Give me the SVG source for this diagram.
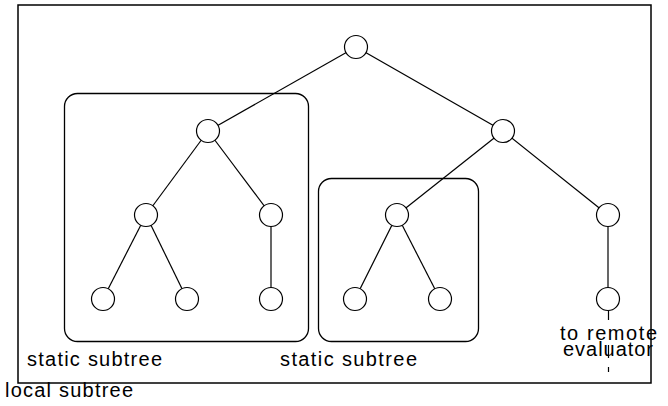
<svg xmlns="http://www.w3.org/2000/svg" width="668" height="406" viewBox="0 0 668 406">
<style>
.frame{fill:none;stroke:#000;stroke-width:1.5}
.box{fill:none;stroke:#000;stroke-width:1.3}
.edge{stroke:#000;stroke-width:1.2;fill:none}
.node{fill:#fff;stroke:#000;stroke-width:1.2}
.lbl{font-family:"Liberation Sans","DejaVu Sans",sans-serif;font-size:20px;fill:#000}
</style>
<rect width="668" height="406" fill="#fff"/>
<g id="frame"><rect class="frame" x="18" y="5" width="633" height="378"/></g>
<g id="box1"><rect class="box" x="64.5" y="93.5" width="244" height="248" rx="13"/></g>
<g id="box2"><rect class="box" x="318.5" y="178.5" width="160" height="163" rx="13"/></g>
<g id="connectors">
<line class="edge" x1="356" y1="47" x2="208" y2="131"/>
<line class="edge" x1="356" y1="47" x2="503" y2="131"/>
<line class="edge" x1="208" y1="131" x2="146" y2="215"/>
<line class="edge" x1="208" y1="131" x2="271" y2="215"/>
<line class="edge" x1="503" y1="131" x2="397" y2="215"/>
<line class="edge" x1="503" y1="131" x2="608" y2="215"/>
<line class="edge" x1="146" y1="215" x2="103" y2="299"/>
<line class="edge" x1="146" y1="215" x2="187" y2="299"/>
<line class="edge" x1="271" y1="215" x2="271" y2="299"/>
<line class="edge" x1="397" y1="215" x2="355" y2="299"/>
<line class="edge" x1="397" y1="215" x2="440" y2="299"/>
<line class="edge" x1="608" y1="215" x2="608" y2="299"/>
<path class="edge" d="M608.5 311V320M608.5 345V358M608.5 367V372"/>
</g>
<g id="n0"><circle class="node" cx="356" cy="47" r="11.5"/></g>
<g id="n1"><circle class="node" cx="208" cy="131" r="11.5"/></g>
<g id="n2"><circle class="node" cx="503" cy="131" r="11.5"/></g>
<g id="n3"><circle class="node" cx="146" cy="215" r="11.5"/></g>
<g id="n4"><circle class="node" cx="271" cy="215" r="11.5"/></g>
<g id="n5"><circle class="node" cx="397" cy="215" r="11.5"/></g>
<g id="n6"><circle class="node" cx="608" cy="215" r="11.5"/></g>
<g id="n7"><circle class="node" cx="103" cy="299" r="11.5"/></g>
<g id="n8"><circle class="node" cx="187" cy="299" r="11.5"/></g>
<g id="n9"><circle class="node" cx="271" cy="299" r="11.5"/></g>
<g id="n10"><circle class="node" cx="355" cy="299" r="11.5"/></g>
<g id="n11"><circle class="node" cx="440" cy="299" r="11.5"/></g>
<g id="n12"><circle class="node" cx="608" cy="299" r="11.5"/></g>
<g id="labels">
<text class="lbl" x="27" y="366" textLength="135" lengthAdjust="spacing">static subtree</text>
<text class="lbl" x="280" y="366" textLength="137" lengthAdjust="spacing">static subtree</text>
<text class="lbl" x="5" y="397" textLength="128" lengthAdjust="spacing">local subtree</text>
<text class="lbl" x="560" y="340" textLength="97" lengthAdjust="spacing">to remote</text>
<text class="lbl" x="563" y="356" textLength="90" lengthAdjust="spacing">evaluator</text>
</g>
</svg>
